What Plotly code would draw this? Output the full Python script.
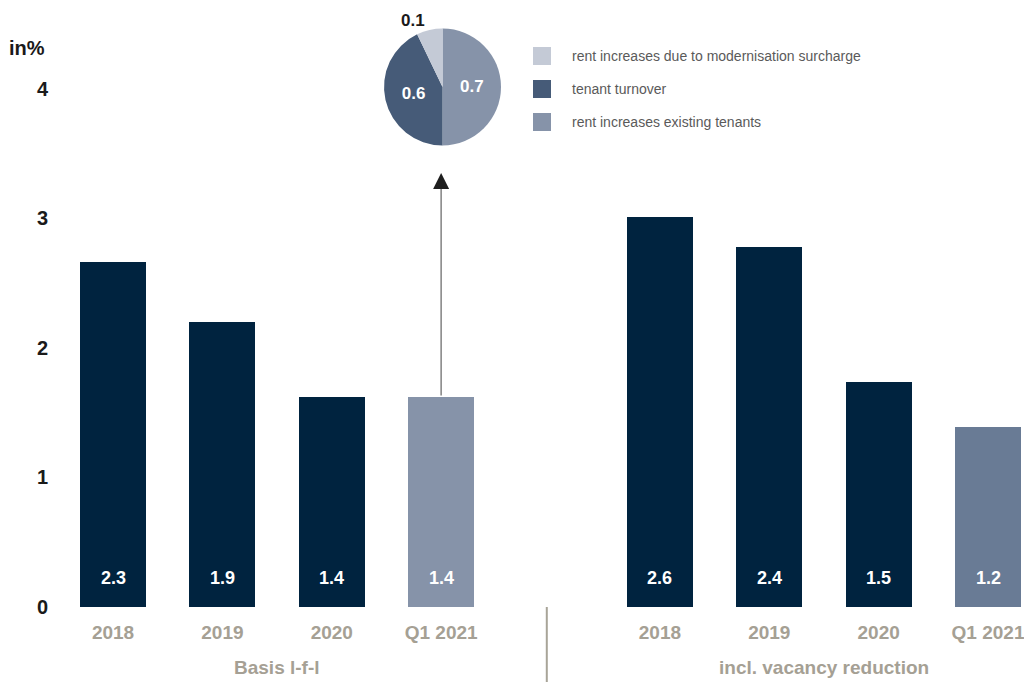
import plotly.graph_objects as go

# ---- data ----
categories = ["2018", "2019", "2020", "Q1 2021"]
groups = ["Basis l-f-l", "incl. vacancy reduction"]
# bar heights as drawn on the y scale
lfl_heights = [2.66, 2.20, 1.62, 1.62]
vac_heights = [3.01, 2.78, 1.74, 1.39]
# value labels printed in the bars
lfl_labels = ["2.3", "1.9", "1.4", "1.4"]
vac_labels = ["2.6", "2.4", "1.5", "1.2"]
y_ticks = [0, 1, 2, 3, 4]
pie_labels = ["rent increases existing tenants", "tenant turnover",
              "rent increases due to modernisation surcharge"]
pie_values = [0.7, 0.6, 0.1]
legend_order = ["rent increases due to modernisation surcharge", "tenant turnover",
                "rent increases existing tenants"]

# ---- styles ----
DARK = "#00233f"
LFL_Q1 = "#8693a9"
VAC_Q1 = "#697b95"
PIE_COLORS = {"rent increases existing tenants": "#8693a9",
              "tenant turnover": "#465b78",
              "rent increases due to modernisation surcharge": "#c4cad6"}
GREY_TXT = "#a5a094"
FONT = "Liberation Sans Narrow, Liberation Sans, Arial, sans-serif"

lfl_x = [0, 1, 2, 3]
vac_x = [5, 6, 7, 8]

fig = go.Figure()
fig.add_bar(x=lfl_x, y=lfl_heights, width=0.603,
            marker=dict(color=[DARK, DARK, DARK, LFL_Q1], line=dict(width=0)),
            showlegend=False, hoverinfo="skip")
fig.add_bar(x=vac_x, y=vac_heights, width=0.603,
            marker=dict(color=[DARK, DARK, DARK, VAC_Q1], line=dict(width=0)),
            showlegend=False, hoverinfo="skip")

# value labels inside bars near base
for xs, labs in ((lfl_x, lfl_labels), (vac_x, vac_labels)):
    for x, t in zip(xs, labs):
        fig.add_annotation(x=x, y=0, xref="x", yref="y", text=t, showarrow=False,
                           yanchor="middle", yshift=29,
                           font=dict(family=FONT, size=18, color="white", weight="bold"))

# group labels
for xs, g in ((lfl_x, groups[0]), (vac_x, groups[1])):
    fig.add_annotation(x=sum(xs) / len(xs), y=0, xref="x", yref="paper", text=g,
                       showarrow=False, yanchor="middle", yshift=-60,
                       font=dict(family=FONT, size=19, color=GREY_TXT, weight="bold"))

# unit label
fig.add_annotation(x=-0.0114, y=0.938, xref="paper", yref="paper", text="in%",
                   showarrow=False, xanchor="right", yanchor="middle",
                   font=dict(family=FONT, size=20, color="#1a1a1a", weight="bold"))

# divider line between the groups
fig.add_shape(type="line", xref="paper", yref="paper", x0=0.506, x1=0.506,
              y0=0, y1=-0.126, line=dict(color="#a8a498", width=2))

# arrow from Q1 2021 bar up to the pie
fig.add_annotation(x=lfl_x[3], y=3.27, ax=lfl_x[3], ay=lfl_heights[3], xref="x", yref="y",
                   axref="x", ayref="y", text="", showarrow=True, arrowhead=0,
                   arrowwidth=1.6, arrowcolor="#8a8a8a")
fig.add_annotation(x=lfl_x[3], y=3.35, ax=lfl_x[3], ay=3.27, xref="x", yref="y",
                   axref="x", ayref="y", text="", showarrow=True, arrowhead=2,
                   arrowsize=2.0, arrowwidth=1.6, arrowcolor="#1e1e1e")

# pie
fig.add_trace(go.Pie(labels=pie_labels, values=pie_values, sort=False, direction="clockwise",
                     rotation=0, domain=dict(x=[0.3375, 0.4586], y=[0.7735, 0.9715]),
                     marker=dict(colors=[PIE_COLORS[l] for l in pie_labels], line=dict(width=0)),
                     text=[str(v) for v in pie_values], textinfo="text",
                     textposition=["inside", "inside", "outside"],
                     insidetextfont=dict(family=FONT, size=17, color="white", weight="bold"),
                     outsidetextfont=dict(family=FONT, size=17, color="#1a1a1a", weight="bold"),
                     insidetextorientation="horizontal",
                     showlegend=False, hoverinfo="skip"))

# custom legend
for i, lab in enumerate(legend_order):
    yc = 56 + 33 * i  # pixel centre of row
    yp = (607 - yc) / 596
    fig.add_shape(type="rect", xref="paper", yref="paper",
                  x0=(533 - 58) / 966, x1=(551 - 58) / 966,
                  y0=yp - 9 / 596, y1=yp + 9 / 596,
                  fillcolor=PIE_COLORS[lab], line=dict(width=0))
    fig.add_annotation(x=(570 - 58) / 966, y=yp, xref="paper", yref="paper", text=lab,
                       showarrow=False, xanchor="left", yanchor="middle",
                       font=dict(family="Liberation Sans, Arial, sans-serif", size=14, color="#5a5a5a"))

fig.update_layout(
    width=1024, height=682,
    margin=dict(l=58, r=0, t=11, b=75),
    paper_bgcolor="white", plot_bgcolor="white",
    bargap=0,
    xaxis=dict(range=[-0.503, 8.329], tickvals=lfl_x + vac_x, ticktext=categories + categories,
               showgrid=False, zeroline=False, showline=False, ticks="",
               ticklabelstandoff=12, ticklabeloverflow="allow",
               tickfont=dict(family=FONT, size=19, color=GREY_TXT, weight="bold")),
    yaxis=dict(range=[0, 4.6], tickvals=y_ticks, ticktext=[str(t) for t in y_ticks],
               showgrid=False, zeroline=False, showline=False, ticks="",
               ticklabelstandoff=9,
               tickfont=dict(family=FONT, size=20, color="#1a1a1a", weight="bold")),
)

fig.write_html("out.html", config={"displayModeBar": False},
               post_script="document.body.style.margin='0';")
